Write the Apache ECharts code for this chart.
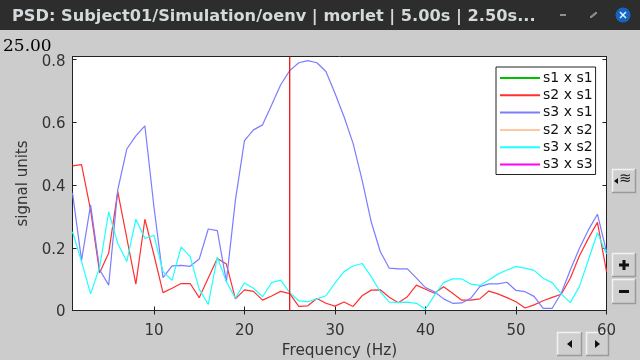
<!DOCTYPE html>
<html>
<head>
<meta charset="utf-8">
<style>html,body{margin:0;padding:0;background:#cccccc;overflow:hidden}#c{width:640px;height:360px}</style>
<script src="https://cdn.jsdelivr.net/npm/echarts@6/dist/echarts.min.js"></script>
</head>
<body>
<div id="c"></div>
<script>
const titleText = 'PSD: Subject01/Simulation/oenv | morlet | 5.00s | 2.50s...';
const cursorLabel = '25.00';
const cursorX = [25,25];
const cursorY = [0,0.81];
const frequencies = [1,2,3,4,5,6,7,8,9,10,11,12,13,14,15,16,17,18,19,20,21,22,23,24,25,26,27,28,29,30,31,32,33,34,35,36,37,38,39,40,41,42,43,44,45,46,47,48,49,50,51,52,53,54,55,56,57,58,59,60];
const xTicks = [10,20,30,40,50,60];
const yTicks = [0,0.2,0.4,0.6,0.8];
const s3s1 = [.375,.16,.337,.13,.081,.385,.515,.557,.589,.33,.105,.142,.144,.141,.164,.26,.255,.092,.352,.542,.576,.592,.655,.72,.765,.79,.797,.79,.762,.693,.618,.533,.416,.283,.188,.135,.133,.133,.103,.073,.06,.037,.023,.024,.039,.076,.085,.085,.09,.064,.06,.045,.007,.007,.055,.129,.198,.257,.307,.188];
const s2s1 = [.461,.465,.32,.12,.183,.379,.231,.084,.291,.177,.057,.071,.086,.086,.041,.104,.166,.148,.037,.066,.061,.033,.046,.061,.054,.013,.015,.038,.023,.014,.027,.013,.047,.065,.066,.042,.025,.044,.081,.068,.055,.076,.055,.033,.033,.037,.062,.053,.041,.028,.008,.018,.031,.042,.052,.103,.174,.23,.281,.124];
const s3s2 = [.251,.156,.053,.138,.315,.214,.156,.291,.23,.24,.124,.096,.203,.172,.068,.019,.17,.092,.039,.088,.071,.044,.089,.097,.057,.031,.028,.037,.047,.087,.124,.142,.15,.108,.06,.027,.026,.027,.023,.004,.049,.089,.101,.101,.084,.08,.097,.116,.129,.14,.135,.128,.103,.089,.053,.025,.076,.161,.248,.18];
const seriesNames = ['s1 x s1','s2 x s1','s3 x s1','s2 x s2','s3 x s2','s3 x s3'];
const seriesColors = ['#00c000','#ff3030','#7c7cff','#ffc8a0','#20ffff','#ff00ff'];
const seriesValues = [[], s2s1, s3s1, [], s3s2, []];

const chart = echarts.init(document.getElementById('c'), null, {renderer:'canvas'});
const FONT = 'DejaVu Sans';

function button(x, y, w, h, children) {
  return {type:'group', children:[
    {type:'rect', shape:{x:x, y:y, width:w, height:h}, style:{fill:'#cfcfcf', stroke:null}},
    {type:'polyline', shape:{points:[[x+.5,y+h],[x+.5,y+.5],[x+w,y+.5]]}, style:{stroke:'#f2f2f2', fill:null, lineWidth:1.5}},
    {type:'polyline', shape:{points:[[x+w-.5,y],[x+w-.5,y+h-.5],[x,y+h-.5]]}, style:{stroke:'#9a9a9a', fill:null, lineWidth:1.5}}
  ].concat(children)};
}

const series = seriesNames.map((name, i) => ({
  name: name, type:'line', showSymbol:false, symbol:'none', smooth:false, animation:false,
  data: seriesValues[i].map((v, k) => [frequencies[k], v]),
  lineStyle:{color:seriesColors[i], width:1.2},
  itemStyle:{color:seriesColors[i]},
  z: i + 2
}));
series.push({
  name:'cursor', type:'line', showSymbol:false, symbol:'none', animation:false, silent:true, z:9,
  data: cursorX.map((x, k) => [x, cursorY[k]]),
  lineStyle:{color:'#f00000', width:1.2}
});

chart.setOption({
  animation:false,
  backgroundColor:'#cccccc',
  grid:{left:72.5, right:33.5, top:56.5, bottom:49.5, show:true, backgroundColor:'#ffffff', borderColor:'#222222', borderWidth:1, outerBoundsMode:'none', containLabel:false},
  xAxis:[{
    type:'value', min:1, max:60, position:'bottom', name:'Frequency (Hz)', nameLocation:'middle', nameGap:30,
    nameTextStyle:{fontFamily:FONT, fontSize:15.3, color:'#333333'},
    axisLine:{show:true, lineStyle:{color:'#222222'}}, splitLine:{show:false},
    axisTick:{show:true, inside:true, length:4, customValues:xTicks, lineStyle:{color:'#222222'}},
    axisLabel:{show:true, customValues:xTicks, margin:13, fontFamily:FONT, fontSize:15, color:'#333333', hideOverlap:false}
  },{
    type:'value', min:1, max:60, position:'top',
    axisLine:{show:true, lineStyle:{color:'#222222'}}, splitLine:{show:false},
    axisTick:{show:true, inside:true, length:4, customValues:xTicks, lineStyle:{color:'#222222'}},
    axisLabel:{show:false}
  }],
  yAxis:[{
    type:'value', min:0, max:0.81, position:'left', name:'signal units', nameLocation:'middle', nameGap:33, nameRotate:90,
    nameTextStyle:{fontFamily:FONT, fontSize:15, color:'#333333'},
    axisLine:{show:true, lineStyle:{color:'#222222'}}, splitLine:{show:false},
    axisTick:{show:true, inside:true, length:4, customValues:yTicks, lineStyle:{color:'#222222'}},
    axisLabel:{show:true, customValues:yTicks, margin:7, fontFamily:FONT, fontSize:15, color:'#333333', verticalAlign:'top', lineHeight:4,
      formatter:v => v === 0 ? '0' : v.toFixed(1)}
  },{
    type:'value', min:0, max:0.81, position:'right',
    axisLine:{show:true, lineStyle:{color:'#222222'}}, splitLine:{show:false},
    axisTick:{show:true, inside:true, length:4, customValues:yTicks, lineStyle:{color:'#222222'}},
    axisLabel:{show:false}
  }],
  legend:{
    show:true, orient:'vertical', left:496, top:67, itemWidth:40, itemHeight:14, itemGap:3.3,
    data:seriesNames, selectedMode:false, itemStyle:{opacity:0},
    padding:[4,3,3,3], backgroundColor:'#ffffff', borderColor:'#222222', borderWidth:1, borderRadius:0,
    textStyle:{fontFamily:FONT, fontSize:14, color:'#111111', padding:[3,0,0,-2]},
    z:20
  },
  series: series,
  graphic:[
    {type:'rect', z:30, shape:{x:0,y:0,width:640,height:30}, style:{fill:'#2d2d2d'}},
    {type:'text', z:31, x:12, y:8.5, style:{text:titleText, font:'bold 16.2px "DejaVu Sans"', fill:'#d4dadb'}},
    {type:'line', z:31, shape:{x1:560,y1:15,x2:566,y2:15}, style:{stroke:'#8f8f8f', lineWidth:2}},
    {type:'polygon', z:31, shape:{points:[[590,17],[596,12],[597,13],[591,18]]}, style:{fill:'#8f8f8f', stroke:'#8f8f8f', lineWidth:1}},
    {type:'circle', z:31, shape:{cx:623,cy:15,r:7.5}, style:{fill:'#1565c0'}},
    {type:'line', z:32, shape:{x1:620,y1:12,x2:626,y2:18}, style:{stroke:'#e8f0ff', lineWidth:1.5}},
    {type:'line', z:32, shape:{x1:626,y1:12,x2:620,y2:18}, style:{stroke:'#e8f0ff', lineWidth:1.5}},
    {type:'text', z:30, x:3, y:38, style:{text:cursorLabel, font:'17px "DejaVu Serif"', fill:'#000000'}},
    Object.assign(button(612,169,24,24,[
      {type:'polygon', shape:{points:[[618,178],[618,184],[614,181]]}, style:{fill:'#111111'}},
      {type:'text', x:619, y:172, style:{text:'≋', font:'15px "DejaVu Sans"', fill:'#222222'}}
    ]),{z:30}),
    Object.assign(button(612,253,24,24,[
      {type:'rect', shape:{x:619,y:263.5,width:10,height:3}, style:{fill:'#111111'}},
      {type:'rect', shape:{x:622.5,y:260,width:3,height:10}, style:{fill:'#111111'}}
    ]),{z:30}),
    Object.assign(button(612,279,24,25,[
      {type:'rect', shape:{x:619,y:290,width:10,height:3}, style:{fill:'#111111'}}
    ]),{z:30}),
    Object.assign(button(557,332,25,24,[
      {type:'polygon', shape:{points:[[572,340],[572,348],[567,344]]}, style:{fill:'#111111'}}
    ]),{z:30}),
    Object.assign(button(586,332,23,24,[
      {type:'polygon', shape:{points:[[595,340],[595,348],[600,344]]}, style:{fill:'#111111'}}
    ]),{z:30})
  ]
});
</script>
</body>
</html>
